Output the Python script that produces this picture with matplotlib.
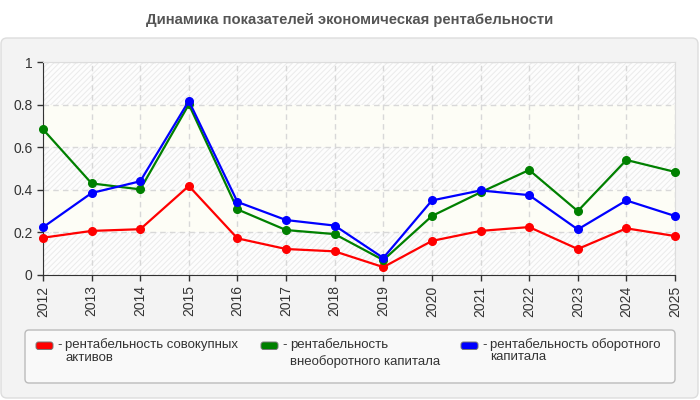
import matplotlib.pyplot as plt
from matplotlib.patches import FancyBboxPatch

plt.rcParams['font.family'] = ['Liberation Sans', 'DejaVu Sans']
plt.rcParams['hatch.color'] = '#ebebeb'
plt.rcParams['hatch.linewidth'] = 0.7

# data
years = [2012, 2013, 2014, 2015, 2016, 2017, 2018, 2019, 2020, 2021, 2022, 2023, 2024, 2025]
total_assets = [0.175, 0.207, 0.215, 0.418, 0.172, 0.122, 0.111, 0.037, 0.160, 0.207, 0.225, 0.122, 0.219, 0.183]
noncurrent = [0.684, 0.430, 0.402, 0.801, 0.308, 0.211, 0.192, 0.070, 0.277, 0.388, 0.493, 0.300, 0.540, 0.484]
current = [0.224, 0.385, 0.440, 0.817, 0.343, 0.258, 0.232, 0.080, 0.350, 0.397, 0.375, 0.214, 0.350, 0.277]

series = [
    (total_assets, 'red', ['рентабельность совокупных', 'активов']),
    (noncurrent, 'green', ['рентабельность', 'внеоборотного капитала']),
    (current, 'blue', ['рентабельность оборотного', 'капитала']),
]
yticks = [0, 0.2, 0.4, 0.6, 0.8, 1]

fig = plt.figure(figsize=(7, 4), dpi=100)
fig.patch.set_facecolor('white')

# outer grey panel
panel = FancyBboxPatch((0.01, 0.02), 6.97, 3.6, boxstyle='round,pad=0,rounding_size=0.06',
                       transform=fig.dpi_scale_trans, facecolor='#f3f3f3',
                       edgecolor='#dddddd', linewidth=1, zorder=0)
fig.add_artist(panel)

fig.text(0.5, 0.95, 'Динамика показателей экономическая рентабельности',
         ha='center', va='center', fontsize=10.7, fontweight='bold', color='#555555')

ax = fig.add_axes([43 / 700, 1 - 275 / 400, 632 / 700, 213 / 400])
ax.set_facecolor('white')

# alternating bands: hatched / plain ivory
for i in range(len(yticks) - 1):
    lo, hi = yticks[i], yticks[i + 1]
    if i % 2 == 0:
        ax.axhspan(lo, hi, facecolor='#fdfdfd', hatch='//////', edgecolor='#ebebeb', linewidth=0, zorder=0)
    else:
        ax.axhspan(lo, hi, facecolor='#fdfdf6', linewidth=0, zorder=0)

for vals, col, _ in series:
    ax.plot(years, vals, color=col, linewidth=1.6, marker='o', markersize=5.5, zorder=3, clip_on=False)

ax.set_xlim(years[0], years[-1])
ax.set_ylim(0, 1)
ax.set_xticks(years)
ax.set_xticklabels([str(y) for y in years], rotation=90)
ax.set_yticks(yticks)
ax.set_yticklabels(['0', '0.2', '0.4', '0.6', '0.8', '1'])
ax.tick_params(labelsize=10, colors='#333333', length=4, width=1)
ax.grid(True, color='#d8d8d8', linestyle=(0, (4, 3)), linewidth=1, zorder=1)
ax.set_axisbelow(True)
for s in ['top', 'right']:
    ax.spines[s].set_color('#dddddd')
for s in ['left', 'bottom']:
    ax.spines[s].set_color('#333333')

# legend box
lbox = FancyBboxPatch((0.25, 0.17), 6.5, 0.53, boxstyle='round,pad=0,rounding_size=0.04',
                      transform=fig.dpi_scale_trans, facecolor='#f9f9f9',
                      edgecolor='#bbbbbb', linewidth=1, zorder=1)
fig.add_artist(lbox)

item_x = [36, 261, 461]
line2_y = [358, 362, 357]
for (vals, col, lines), x0, y2 in zip(series, item_x, line2_y):
    sw = FancyBboxPatch((x0 / 100, 0.505), 0.17, 0.075, boxstyle='round,pad=0,rounding_size=0.025',
                        transform=fig.dpi_scale_trans, facecolor=col, edgecolor='#777777',
                        linewidth=0.7, zorder=2)
    fig.add_artist(sw)
    fig.text((x0 + 21) / 700, 1 - 345 / 400, '-', ha='left', va='center', fontsize=9.5, color='#333333')
    fig.text((x0 + 29) / 700, 1 - 345 / 400, lines[0], ha='left', va='center', fontsize=9.5, color='#333333')
    fig.text((x0 + 29) / 700, 1 - y2 / 400, lines[1], ha='left', va='center', fontsize=9.5, color='#333333')

fig.savefig('out.png', dpi=100)
